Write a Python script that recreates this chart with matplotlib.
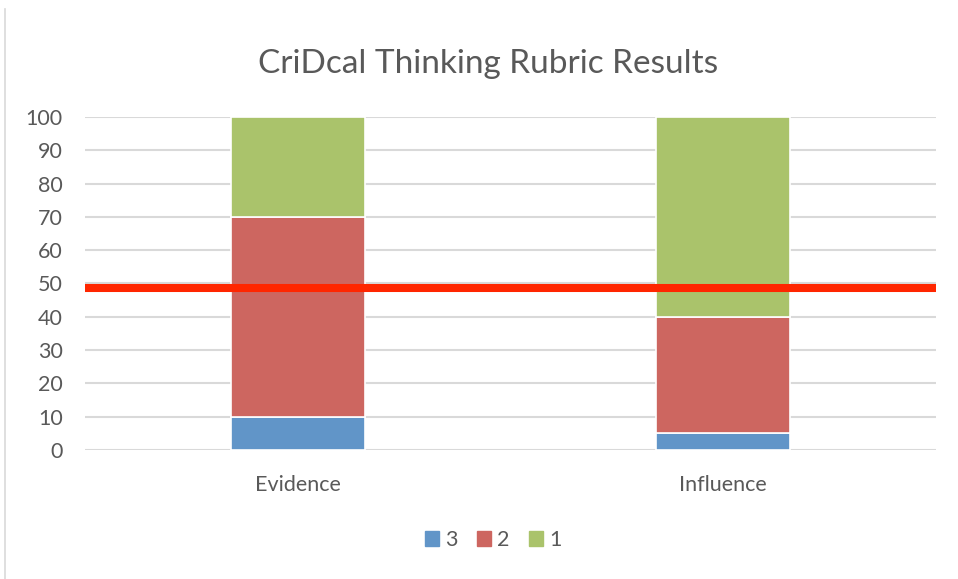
import numpy as np
import matplotlib.pyplot as plt
from matplotlib.patches import Patch
from matplotlib.lines import Line2D

categories = ["Evidence", "Influence"]
score_3 = [10, 5]
score_2 = [60, 35]
score_1 = [30, 60]
threshold = 48.6

plt.rcParams['font.family'] = ['Lato', 'DejaVu Sans']
text_color = '#595959'
colors = {'3': '#6195C8', '2': '#CD6660', '1': '#AAC36B'}

fig = plt.figure(figsize=(9.58, 5.79), dpi=100)
ax = fig.add_axes([0.0887, 0.2228, 0.8883, 0.5752])

x = np.arange(len(categories))
w = 0.315
b1 = np.array(score_3)
b2 = b1 + np.array(score_2)
ax.bar(x, score_3, w, color=colors['3'], edgecolor='white', linewidth=1.2, zorder=3)
ax.bar(x, score_2, w, bottom=b1, color=colors['2'], edgecolor='white', linewidth=1.2, zorder=3)
ax.bar(x, score_1, w, bottom=b2, color=colors['1'], edgecolor='white', linewidth=1.2, zorder=3)

ax.axhline(threshold, color='#FF2600', linewidth=5.8, zorder=4)

ax.set_xlim(-0.5, 1.5)
ax.set_ylim(0, 100)
ax.set_yticks(range(0, 101, 10))
ax.set_xticks(x)
ax.set_xticklabels(categories)
ax.yaxis.grid(True, color='#D9D9D9', linewidth=1.5, zorder=0)
ax.set_axisbelow(True)
for s in ax.spines.values():
    s.set_visible(False)
ax.tick_params(axis='y', length=0, pad=16, labelsize=15.5, labelcolor=text_color)
ax.tick_params(axis='x', length=0, pad=18, labelsize=15.5, labelcolor=text_color)

fig.text(0.509, 0.889, "CriDcal Thinking Rubric Results", ha='center', va='center',
         fontsize=24, color=text_color)

handles = [Patch(color=colors[k]) for k in ['3', '2', '1']]
fig.legend(handles, ['3', '2', '1'], loc='center', bbox_to_anchor=(0.515, 0.067),
           ncol=3, frameon=False, fontsize=15.5, handlelength=0.65, handleheight=0.65,
           handletextpad=0.3, columnspacing=0.9, labelcolor=text_color)

# chart area border on the left edge
fig.add_artist(Line2D([0.0057, 0.0057], [0.0, 0.985], color='#D9D9D9', linewidth=1.2,
                      transform=fig.transFigure))

fig.savefig('out.png', dpi=100)
